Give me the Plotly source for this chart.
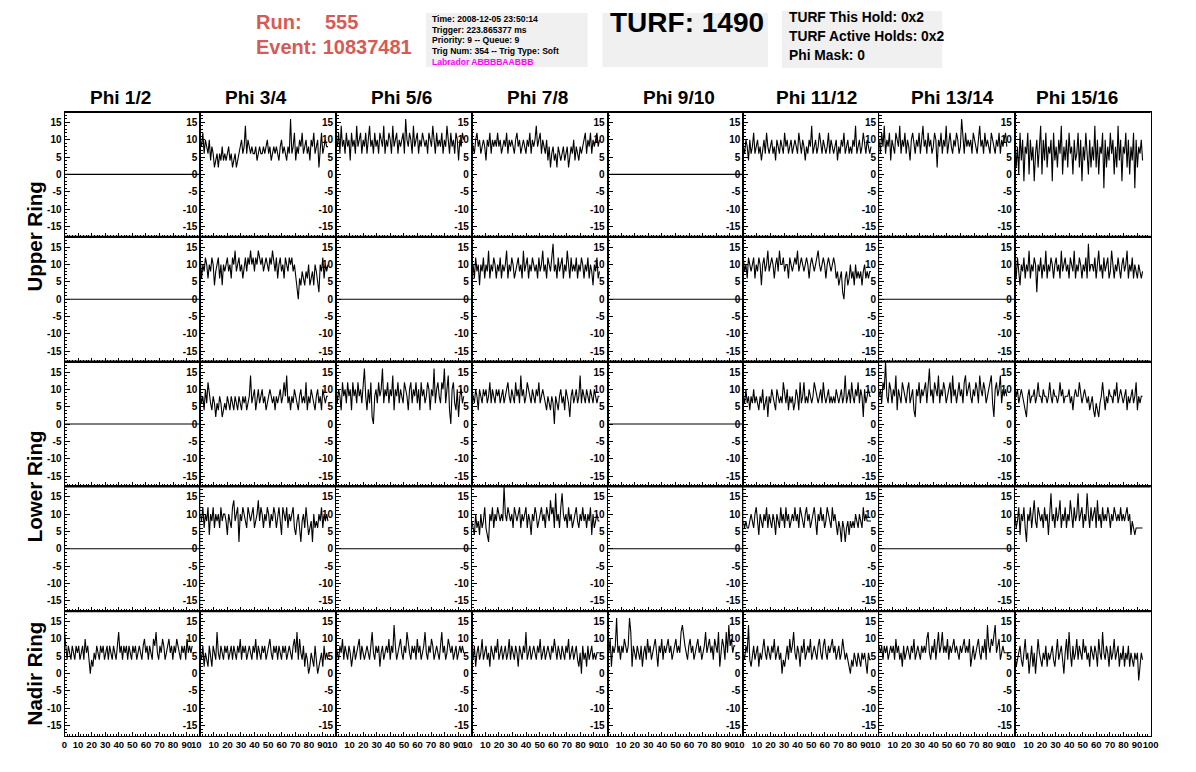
import plotly.graph_objects as go

PAGE_MARGIN = 8          # browser body margin around the figure div
W, H = 1196 - PAGE_MARGIN, 772 - PAGE_MARGIN
SAMPLE_STEP_NS = 0.95

PHI_TITLES = ["Phi 1/2", "Phi 3/4", "Phi 5/6", "Phi 7/8",
              "Phi 9/10", "Phi 11/12", "Phi 13/14", "Phi 15/16"]
PHI_TITLE_CENTERS = [119, 255, 402, 539, 682, 821, 958, 1084]
RING_LABELS = ["Upper Ring", "Lower Ring", "Nadir Ring"]
Y_TICK_VALUES = [-15, -10, -5, 0, 5, 10, 15]
Y_TICK_LABELS = ["-15", "-10", "-5", "0", "5", "10", "15"]
X_TICK_VALUES = [0, 10, 20, 30, 40, 50, 60, 70, 80, 90, 100]
X_TICK_LABELS = ["0", "10", "20", "30", "40", "50", "60", "70", "80", "90", "100"]

flat_times = [0, 100]
flat_values = [0, 0]

# ---- Upper ring, first channel row ----
upper_a_phi34 = [10,8,12,6,10,8,6,10,4,8, 6,2,4,6,2,6,4,8,4,6, 4,6,8,4,6,2,4,6,2,4,
                 6,8,10,6,8,14,6,10,8,6, 8,6,6,8,4,6,8,6,6,8, 6,8,10,6,8,4,6,8,6,8,
                 6,4,8,10,6,8,6,4,8,6, 16,6,8,12,4,8,6,10,8,12, 6,8,10,6,8,4,10,8,12,6,
                 8,10,2,8,12,6,8,10,8,8]
upper_a_phi56 = [10,8,12,6,14,8,10,6,12,8, 10,4,12,8,10,6,14,8,10,12, 6,10,8,12,6,10,14,8,10,6,
                 12,8,10,6,12,10,8,14,6,10, 8,12,10,6,14,8,10,12,6,10, 8,10,12,6,16,10,8,12,10,6,
                 14,8,10,12,6,10,8,12,10,8, 10,6,12,10,8,14,10,6,12,8, 10,8,12,6,10,8,14,10,6,12,
                 8,10,6,12,10,4,10,8,12,10]
upper_a_phi78 = [10,8,6,10,12,8,10,6,8,10, 8,4,10,8,12,6,10,8,10,8, 12,8,10,6,8,10,8,12,6,10,
                 8,10,8,6,10,12,8,10,6,8, 10,8,6,10,8,12,6,10,8,10, 14,8,10,12,6,10,8,6,10,4,
                 8,2,6,8,4,6,2,8,6,4, 6,8,4,6,8,2,6,8,6,10, 4,8,6,4,8,6,8,10,12,6,
                 10,8,12,6,10,8,10,12,8,10]
upper_a_phi1112 = [8,6,10,8,4,10,6,8,12,6, 8,10,6,8,4,8,10,6,12,8, 6,8,10,6,8,4,10,8,6,10,
                   8,6,12,8,10,6,8,10,6,8, 10,8,6,12,8,6,10,8,4,8, 6,10,8,14,6,8,10,6,8,12,
                   8,6,10,8,6,8,12,6,10,8, 6,8,10,4,8,6,10,8,12,6, 8,10,6,8,6,10,8,14,6,8,
                   10,6,8,12,8,6,10,8,6,8]
upper_a_phi1314 = [10,6,12,8,14,6,10,8,12,4, 10,8,6,12,10,8,14,6,10,8, 12,6,10,8,4,10,12,8,6,10,
                   8,12,6,10,14,8,10,6,12,8, 10,6,8,12,10,2,10,8,12,6, 10,8,14,6,10,12,8,6,10,8,
                   12,10,6,8,16,10,6,12,8,10, 8,10,6,12,10,8,6,10,14,8, 10,6,12,8,10,8,6,12,10,8,
                   6,10,8,12,6,10,8,10,12,8]
upper_a_phi1516 = [10,2,8,0,12,4,10,-2,8,6, 12,0,10,4,8,-2,6,10,2,8, 14,0,10,4,12,2,8,6,10,-2,
                   12,4,8,2,10,6,14,0,8,4, 10,2,12,6,8,0,10,4,6,12, 2,10,-2,8,4,12,6,0,10,2,
                   8,4,14,2,10,0,8,6,12,-4, 10,2,8,4,12,6,10,0,8,2, 14,4,10,-2,8,6,12,2,10,0,
                   8,4,12,-4,10,2,8,6,10,4]

# ---- Upper ring, second channel row ----
upper_b_phi34 = [12,6,10,8,12,10,6,10,8,12, 10,4,8,10,12,6,10,4,10,8, 10,12,8,10,6,12,10,14,8,10,
                 12,8,10,6,10,12,8,12,10,14, 10,12,8,12,10,14,12,10,12,8, 10,12,10,8,12,10,14,10,8,12,
                 6,10,12,8,10,6,12,10,8,12, 10,12,8,10,6,2,0,6,4,8, 6,4,8,6,10,4,6,8,4,10,
                 8,4,2,10,8,12,6,10,8,10]
upper_b_phi78 = [8,10,6,12,8,10,4,10,8,12, 6,10,8,14,6,10,8,12,10,6, 10,8,12,6,10,8,10,14,6,10,
                 8,12,10,6,8,10,12,8,10,6, 14,8,10,12,6,10,8,12,10,8, 10,6,12,8,10,14,8,10,6,12,
                 10,8,12,16,8,10,6,12,8,10, 12,6,10,8,14,10,6,12,8,10, 8,12,6,10,8,12,10,6,10,8,
                 12,6,10,8,4,10,8,12,6,8]
upper_b_phi1112 = [12,8,10,6,12,10,8,10,12,6, 10,8,12,10,4,10,12,8,10,14, 8,10,12,10,6,10,12,8,14,10,
                   10,12,8,10,10,6,12,10,8,10, 12,10,14,8,10,12,10,8,10,12, 10,6,10,12,10,8,10,12,14,10,
                   8,10,12,10,6,10,12,10,8,10, 12,10,6,8,4,6,8,2,0,6, 8,4,6,10,6,8,4,10,6,8,
                   6,8,4,8,10,6,8,6,8,8]
upper_b_phi1516 = [10,6,12,8,4,10,8,12,6,10, 8,14,6,10,8,12,10,2,10,8, 12,6,10,8,14,6,10,8,12,10,
                   6,10,12,8,10,6,14,8,10,12, 8,10,6,12,10,8,14,6,10,8, 12,10,6,10,8,12,6,16,8,10,
                   10,8,12,6,10,14,8,10,6,12, 8,10,12,6,8,14,10,6,10,8, 12,8,6,10,12,8,10,14,6,10,
                   8,12,6,10,8,6,10,8,6,8]

# ---- Lower ring, first channel row ----
lower_a_phi34 = [10,6,8,4,10,6,12,8,6,4, 8,6,2,6,4,8,6,2,4,6, 4,8,6,4,8,6,4,8,6,4,
                 8,6,4,8,6,8,4,6,8,14, 6,8,10,4,8,10,6,8,10,6, 8,4,6,8,10,8,6,8,4,8,
                 6,8,10,6,8,12,8,14,6,8, 4,8,6,10,8,6,4,8,10,6, 8,6,12,4,8,6,10,8,6,4,
                 8,10,6,8,4,10,8,6,8,8]
lower_a_phi56 = [10,6,10,8,4,12,8,10,6,12, 8,10,4,12,8,10,6,12,8,10, 6,10,16,8,4,10,6,12,2,0,
                 8,10,6,12,8,10,16,6,10,8, 12,6,10,8,14,4,10,8,12,6, 10,8,6,12,10,8,4,10,12,6,
                 10,8,12,6,10,4,12,8,10,6, 8,12,10,4,10,8,16,6,10,12, 8,6,12,10,16,6,10,14,4,0,
                 10,12,6,4,10,2,8,10,6,8]
lower_a_phi78 = [10,8,6,10,8,4,10,8,6,10, 8,10,6,8,12,6,10,8,6,10, 8,10,6,8,10,6,8,10,12,8,
                 6,10,8,6,12,8,10,6,14,8, 10,6,8,12,10,8,6,10,8,6, 10,8,12,6,8,10,8,6,4,8,
                 6,4,8,6,0,8,6,4,8,10, 6,8,4,10,8,6,2,8,10,6, 8,10,6,8,14,6,10,8,6,10,
                 8,6,10,8,6,10,8,6,8,8]
lower_a_phi1112 = [8,6,10,6,8,4,8,6,10,6, 8,6,4,8,6,10,4,6,8,2, 8,6,10,8,6,4,10,8,6,8,
                   6,12,8,6,10,4,8,6,8,4, 6,10,8,4,12,6,8,12,6,8, 6,10,8,6,8,12,10,8,6,8,
                   10,6,12,8,6,8,10,6,8,6, 8,6,10,8,6,8,10,6,8,14, 6,8,10,6,12,8,6,10,8,12,
                   6,10,8,2,10,6,8,10,8,8]
lower_a_phi1314 = [8,10,6,12,10,18,8,6,12,10, 6,10,8,14,4,10,8,6,12,10, 8,6,10,12,6,8,10,4,2,10,
                   8,12,6,10,8,10,12,6,10,16, 8,10,6,12,10,8,14,6,10,8, 12,10,6,8,10,12,6,14,8,10,
                   6,10,12,8,10,6,12,14,8,10, 12,8,6,10,8,12,10,6,14,10, 8,12,10,6,8,10,12,14,6,2,
                   10,12,8,10,14,6,10,8,10,8]
lower_a_phi1516 = [10,8,10,6,8,10,8,6,4,2, 8,10,6,8,8,10,6,8,12,8, 8,6,10,8,8,6,8,12,8,6,
                   10,8,8,6,8,12,8,10,6,8, 8,8,10,6,8,4,8,10,8,8, 12,8,6,8,10,8,6,8,4,6,
                   8,4,2,6,4,2,6,8,12,8, 4,8,6,10,8,8,6,10,8,12, 6,8,10,8,6,8,10,4,8,6,
                   8,10,6,8,12,4,8,6,8,8]

# ---- Lower ring, second channel row ----
lower_b_phi34 = [10,8,12,6,10,8,12,4,10,8, 12,6,10,8,10,6,12,8,10,10, 8,4,10,8,6,12,14,8,10,12,
                 2,10,8,12,10,8,6,12,10,8, 10,12,6,8,10,14,8,12,10,6, 10,8,12,10,6,10,8,12,10,6,
                 10,12,8,4,12,10,8,12,6,10, 8,10,12,6,4,8,10,6,2,8, 10,6,12,8,4,6,8,2,10,6,
                 8,6,10,8,12,6,10,8,10,8]
lower_b_phi78 = [8,6,4,10,6,8,4,10,6,8, 12,6,4,2,10,8,12,6,10,8, 12,10,8,10,8,18,10,8,12,10,
                 8,10,6,12,10,8,10,12,6,10, 8,10,12,6,10,8,4,10,8,12, 10,6,8,10,12,8,10,6,12,10,
                 8,14,10,12,6,16,8,10,6,12, 16,10,8,10,6,12,8,10,6,8, 10,12,8,6,10,8,12,8,10,6,
                 10,8,12,4,10,6,8,10,8,8]
lower_b_phi1112 = [8,6,8,6,6,8,10,8,6,10, 12,8,4,10,8,6,10,8,12,6, 10,8,6,10,8,4,10,8,6,12,
                   8,10,6,12,8,10,6,8,10,8, 12,8,10,6,12,10,8,6,10,12, 8,10,6,8,10,12,8,4,10,8,
                   12,8,10,6,8,12,10,8,6,12, 8,10,6,4,8,6,2,8,6,2, 6,8,4,8,6,8,6,10,8,6,
                   10,8,6,12,8,10,8,8,8,8]
lower_b_phi1516 = [10,6,8,12,4,10,8,12,6,2, 10,8,12,6,10,14,8,6,12,10, 8,10,6,12,8,10,4,10,16,8,
                   10,6,12,8,10,14,6,10,8,12, 6,10,8,14,10,6,12,8,10,16, 8,10,12,6,10,8,16,10,6,12,
                   8,10,12,6,14,8,10,6,12,8, 10,8,12,10,6,10,8,12,10,8, 10,8,12,8,10,8,10,12,8,10,
                   4,8,6,4,6,6,6,6,6,6]

# ---- Nadir ring ----
nadir_phi12 = [12,8,4,8,6,4,8,6,4,8, 6,8,4,6,8,4,10,6,8,4, 0,4,2,6,4,8,6,4,8,6,
               8,4,6,8,4,8,6,4,8,6, 4,8,12,6,8,4,8,6,8,4, 8,6,4,8,6,8,4,6,8,6,
               4,8,10,6,8,4,8,6,4,10, 8,12,6,4,8,6,10,8,4,6, 8,10,6,8,4,8,6,10,8,6,
               4,8,6,8,4,10,6,8,6,8]
nadir_phi34 = [6,4,8,2,6,4,2,8,4,2, 8,6,4,12,6,4,8,6,4,8, 6,8,4,6,8,4,8,6,4,8,
               6,10,4,8,6,8,4,6,8,6, 4,8,6,10,4,8,6,4,8,6, 8,4,6,8,10,6,4,8,6,8,
               4,8,6,4,8,6,8,4,6,8, 6,4,8,10,6,12,4,10,6,4, 8,2,6,4,0,2,6,4,2,8,
               4,0,2,4,6,2,8,4,6,4]
nadir_phi56 = [8,6,4,8,6,10,4,8,6,4, 8,6,2,6,8,4,6,8,10,4, 8,6,4,6,8,6,4,8,12,6,
               4,8,6,8,2,6,8,4,6,8, 6,10,4,8,6,14,8,4,6,8, 10,6,4,8,6,12,8,6,4,8,
               6,8,4,10,6,8,4,6,8,12, 6,4,8,6,10,8,4,6,8,6, 4,8,12,6,8,4,6,10,8,6,
               8,4,6,8,4,6,8,6,8,6]
nadir_phi78 = [6,4,8,2,6,8,4,6,10,4, 6,8,4,6,2,8,6,4,8,6, 10,4,6,8,4,6,8,4,6,10,
               4,8,6,4,8,6,2,8,6,4, 8,6,12,4,6,8,4,6,8,6, 4,8,6,10,4,6,8,4,6,8,
               6,4,8,6,10,6,4,8,6,4, 8,6,4,8,6,10,4,6,8,4, 6,8,4,2,6,0,8,4,6,2,
               8,4,6,8,4,6,4,6,6,6]
nadir_phi910 = [8,6,10,2,8,6,8,16,6,8, 4,8,6,10,8,6,8,16,12,2, 8,6,4,8,6,4,8,2,6,8,
                4,10,6,8,4,6,8,10,6,2, 8,6,10,4,8,6,8,10,6,8, 4,6,8,10,6,8,6,12,14,10,
                8,6,4,8,10,6,8,4,6,8, 10,6,8,4,6,8,12,6,8,10, 6,8,4,10,8,6,12,2,6,10,
                8,4,12,6,14,8,10,6,8,8]
nadir_phi1112 = [6,4,8,6,14,4,2,6,8,4, 6,8,2,6,4,8,10,6,4,8, 6,4,8,6,10,4,6,8,4,6,
                 0,4,2,6,8,4,10,6,8,12, 6,4,8,6,2,8,6,10,4,6, 8,6,10,4,6,8,6,4,8,10,
                 6,4,8,10,6,4,8,6,8,10, 6,8,4,6,8,4,6,10,6,4, 6,4,2,0,4,2,6,4,2,6,
                 4,2,6,4,6,2,0,6,4,4]
nadir_phi1314 = [8,6,8,4,8,6,8,4,6,8, 6,8,4,10,6,8,4,6,2,8, 4,6,8,6,4,8,6,10,4,6,
                 8,6,4,8,6,8,6,10,12,6, 4,8,6,10,4,8,12,6,8,12, 6,8,6,10,4,8,6,8,10,6,
                 8,6,4,8,6,8,10,6,8,6, 10,2,6,8,4,6,8,10,6,4, 8,6,10,4,14,8,6,10,8,12,
                 14,6,8,10,4,6,8,6,6,6]
nadir_phi1516 = [6,2,4,6,8,4,2,6,10,4, 6,0,4,8,2,6,0,4,10,6, 4,2,6,4,8,2,6,4,6,8,
                 4,2,6,10,4,6,8,4,0,6, 10,4,12,6,2,8,4,6,10,4, 8,6,4,10,6,8,4,6,2,8,
                 6,4,8,6,2,10,6,4,12,6, 4,8,6,2,8,4,6,10,4,6, 8,2,6,4,8,2,6,4,8,2,
                 6,4,2,6,4,6,-2,2,6,4]

F = None  # channel with no signal (flat zero line)
PANEL_DATA = [
    [F, upper_a_phi34, upper_a_phi56, upper_a_phi78, F, upper_a_phi1112, upper_a_phi1314, upper_a_phi1516],
    [F, upper_b_phi34, F, upper_b_phi78, F, upper_b_phi1112, F, upper_b_phi1516],
    [F, lower_a_phi34, lower_a_phi56, lower_a_phi78, F, lower_a_phi1112, lower_a_phi1314, lower_a_phi1516],
    [F, lower_b_phi34, F, lower_b_phi78, F, lower_b_phi1112, F, lower_b_phi1516],
    [nadir_phi12, nadir_phi34, nadir_phi56, nadir_phi78, nadir_phi910, nadir_phi1112, nadir_phi1314, nadir_phi1516],
]

# ---------------- layout geometry (window pixels) ----------------
GRID_LEFT, GRID_RIGHT = 62.0, 1158.3
GRID_TOP, GRID_BOTTOM = 112.0, 736.0
NCOL, NROW = 8, 5
CW = (GRID_RIGHT - GRID_LEFT) / NCOL
RH = (GRID_BOTTOM - GRID_TOP) / NROW
TICK_FONT_SIZE = 9.5


def px(xp):
    return (xp - PAGE_MARGIN) / W


def py(yp):
    return 1 - (yp - PAGE_MARGIN) / H


FONT = "Liberation Sans"
fig = go.Figure()
layout = dict(
    width=W, height=H, margin=dict(l=0, r=0, t=0, b=0),
    paper_bgcolor="white", plot_bgcolor="white", showlegend=False,
    font=dict(family=FONT, color="black"),
)

for r in range(NROW):
    for c in range(NCOL):
        k = r * NCOL + c + 1
        sfx = "" if k == 1 else str(k)
        left = GRID_LEFT + c * CW
        top = GRID_TOP + r * RH
        vals = PANEL_DATA[r][c]
        if vals is None:
            xs, ys = flat_times, flat_values
        else:
            xs = [i * SAMPLE_STEP_NS for i in range(len(vals))]
            ys = vals
        fig.add_trace(go.Scatter(x=xs, y=ys, mode="lines",
                                 line=dict(color="black", width=1.1),
                                 xaxis="x" + sfx, yaxis="y" + sfx,
                                 hoverinfo="skip"))
        bottom_row = (r == NROW - 1)
        if c == 0:
            xt_vals, xt_text = X_TICK_VALUES[:-1], X_TICK_LABELS[:-1]
        elif c == NCOL - 1:
            xt_vals, xt_text = X_TICK_VALUES[1:], X_TICK_LABELS[1:]
        else:
            xt_vals, xt_text = X_TICK_VALUES[1:-1], X_TICK_LABELS[1:-1]
        layout["xaxis" + sfx] = dict(
            domain=[px(left), px(left + CW)], range=[0, 100],
            anchor="y" + sfx, showgrid=False, zeroline=False,
            showline=True, mirror=True, linecolor="black", linewidth=1,
            ticks="inside", ticklen=4, tickwidth=1, tickcolor="black",
            tickmode="array", tickvals=xt_vals, ticktext=xt_text, tickangle=0,
            showticklabels=bottom_row,
            tickfont=dict(family=FONT, size=TICK_FONT_SIZE, color="black", weight="bold"),
            minor=dict(ticks="inside", ticklen=2, tickmode="linear", tick0=0, dtick=2,
                       tickcolor="black", showgrid=False),
            fixedrange=True,
        )
        layout["yaxis" + sfx] = dict(
            domain=[py(top + RH), py(top)], range=[-18, 18],
            anchor="x" + sfx, showgrid=False, zeroline=False,
            showline=True, mirror=True, linecolor="black", linewidth=1,
            ticks="inside", ticklen=5, tickwidth=1, tickcolor="black",
            tickmode="array", tickvals=Y_TICK_VALUES, ticktext=Y_TICK_LABELS,
            tickfont=dict(family=FONT, size=10, color="black", weight="bold"),
            minor=dict(ticks="inside", ticklen=2.5, tickmode="linear", tick0=0, dtick=1,
                       tickcolor="black", showgrid=False),
            fixedrange=True,
        )

shapes = []
annotations = []

# thick row separators
for r in range(NROW):
    y = GRID_TOP + r * RH
    shapes.append(dict(type="line", xref="paper", yref="paper",
                       x0=px(GRID_LEFT), x1=px(GRID_RIGHT), y0=py(y), y1=py(y),
                       line=dict(color="black", width=2.2)))

# clipped "100" labels at panel joins on the bottom axis
for c in range(NCOL - 1):
    xr = GRID_LEFT + (c + 1) * CW
    annotations.append(dict(text="10", xref="paper", yref="paper",
                            x=px(xr + 3.5), y=py(744), xanchor="right", yanchor="middle",
                            showarrow=False,
                            font=dict(family=FONT, size=TICK_FONT_SIZE, color="black", weight="bold")))

# column titles
for title, cx in zip(PHI_TITLES, PHI_TITLE_CENTERS):
    annotations.append(dict(text=title, xref="paper", yref="paper",
                            x=px(cx), y=py(97), xanchor="center", yanchor="middle",
                            showarrow=False,
                            font=dict(family=FONT, size=19, color="black", weight="bold")))

# ring labels
ring_centers = [GRID_TOP + RH, GRID_TOP + 3 * RH, GRID_TOP + 4.5 * RH]
for lbl, cy in zip(RING_LABELS, ring_centers):
    annotations.append(dict(text=lbl, xref="paper", yref="paper",
                            x=px(32), y=py(cy), xanchor="center", yanchor="middle",
                            textangle=-90, showarrow=False,
                            font=dict(family=FONT, size=20.5, color="black", weight="bold")))

# header
RED = "#d65a55"


def ann(text, x, y, size, color="black", bold=True, anchor="left"):
    annotations.append(dict(text=text, xref="paper", yref="paper",
                            x=px(x), y=py(y), xanchor=anchor, yanchor="middle",
                            showarrow=False,
                            font=dict(family=FONT, size=size, color=color,
                                      weight="bold" if bold else "normal")))


ann("Run:", 253, 22, 20, RED)
ann("555", 323, 22, 20, RED)
ann("Event: 10837481", 253, 47, 20, RED)

for (x0, x1, y0, y1) in [(427, 590, 13, 67), (605, 772, 13, 67), (786, 948, 11, 68)]:
    shapes.append(dict(type="rect", xref="paper", yref="paper", layer="below",
                       x0=px(x0), x1=px(x1), y0=py(y1), y1=py(y0),
                       fillcolor="#f0f0f0", line=dict(width=0)))

info_lines = ["Time: 2008-12-05 23:50:14", "Trigger: 223.865377 ms",
              "Priority: 9 -- Queue: 9", "Trig Num: 354 -- Trig Type: Soft"]
for i, t in enumerate(info_lines):
    ann(t, 431, 18.5 + i * 11, 8.6)
ann("Labrador ABBBBAABBB", 431, 62, 8.6, "#ff00ff")

ann("TURF: 1490", 611, 23, 28)

turf_lines = ["TURF This Hold: 0x2", "TURF Active Holds: 0x2", "Phi Mask: 0"]
for i, t in enumerate(turf_lines):
    ann(t, 791, 18 + i * 18.5, 13.8)

layout["shapes"] = shapes
layout["annotations"] = annotations
fig.update_layout(**layout)
fig.write_html("out.html")
